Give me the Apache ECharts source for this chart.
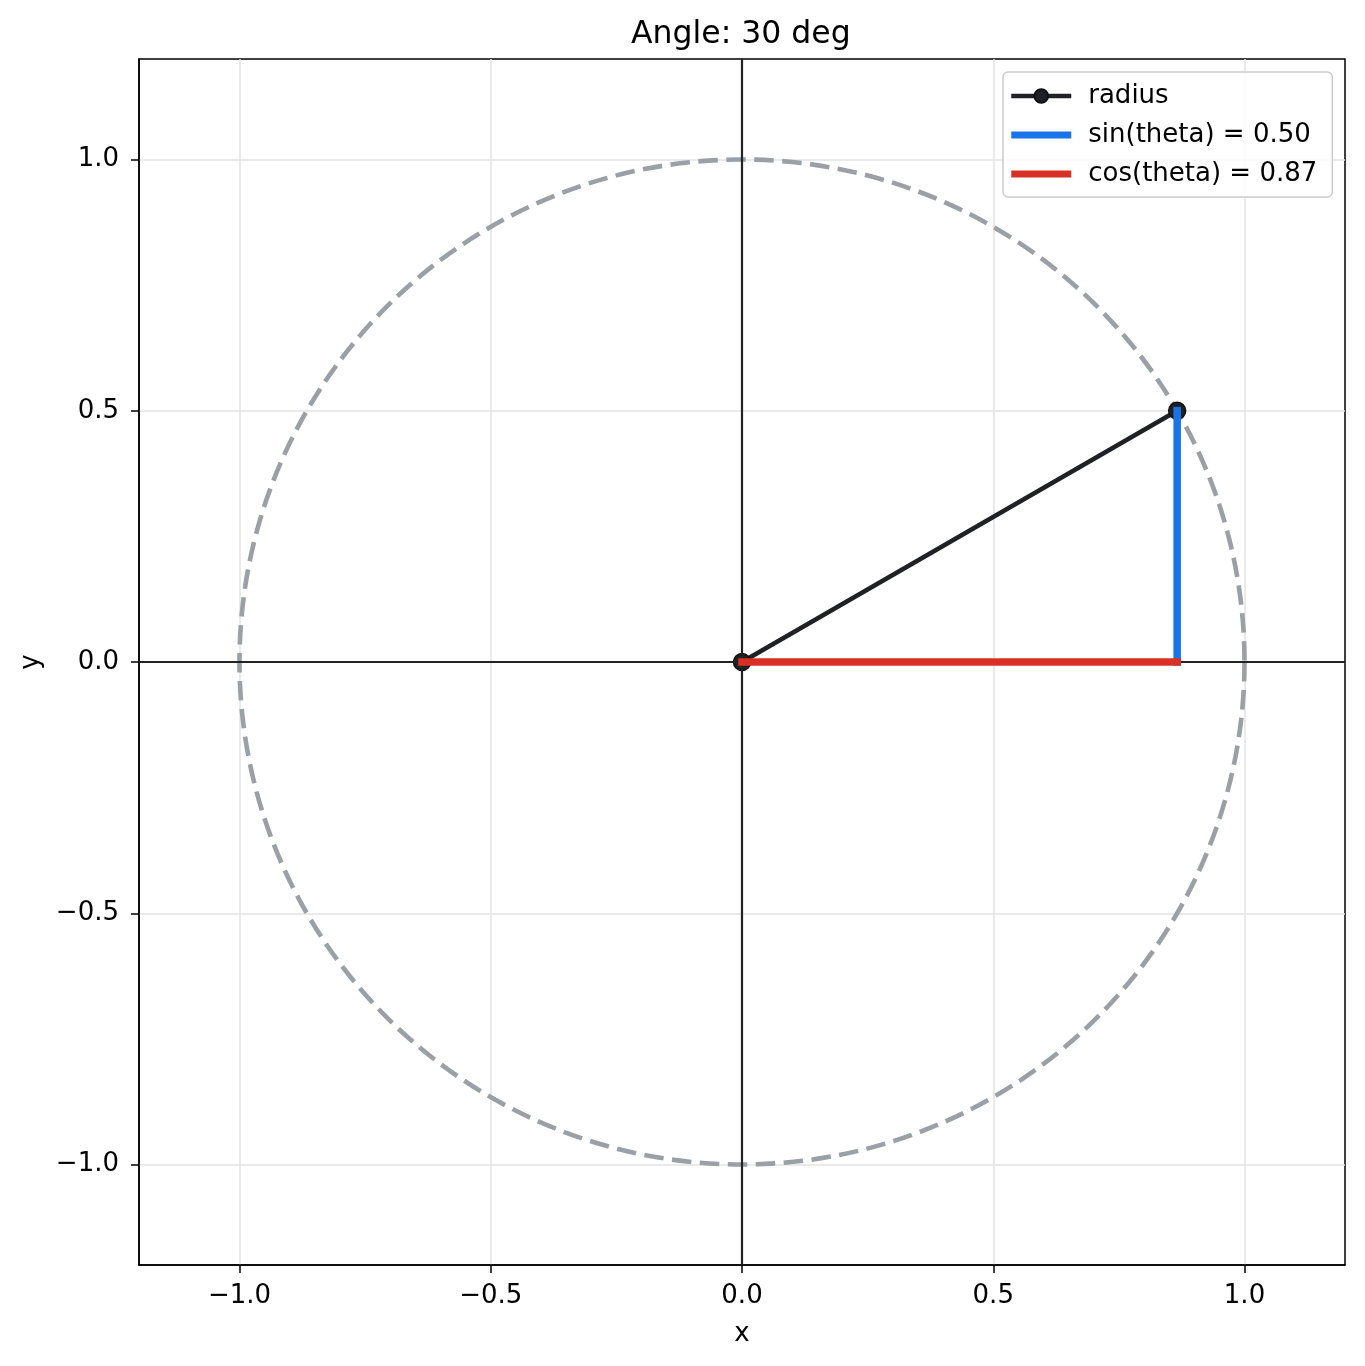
<!DOCTYPE html>
<html lang="en">
  <head>
    <meta charset="UTF-8" />
    <title>Angle: 30 deg</title>
    <script src="https://cdn.jsdelivr.net/npm/echarts@6/dist/echarts.min.js"></script>
    <style>
      body { margin: 0; background: #fff; }
    </style>
  </head>
  <body>
    <div id="main" style="width: 1365px; height: 1366px"></div>
    <script type="text/javascript">
      // values
      const angleDeg = 30;
      const radiusX = [0, 0.866];
      const radiusY = [0, 0.5];
      const sinX = [0.866, 0.866];
      const sinY = [0, 0.5];
      const cosX = [0, 0.866];
      const cosY = [0, 0];
      const circle = [0, 0, 1]; // center x, center y, radius
      const tickValues = [-1.0, -0.5, 0.0, 0.5, 1.0];
      const seriesNames = ["radius", "sin(theta) = 0.50", "cos(theta) = 0.87"];

      const font = "DejaVu Sans";
      const black = "#202124";
      const blue = "#1a73e8";
      const red = "#d93025";
      const pair = (xs, ys) => xs.map((x, i) => [x, ys[i]]);
      const fmt = (v) => (v < 0 ? "\u2212" : "") + Math.abs(v).toFixed(1);

      var myChart = echarts.init(document.getElementById("main"));

      function axis(name, nameGap, margin) {
        return {
          type: "value",
          min: -1.2,
          max: 1.2,
          name: name,
          nameLocation: "middle",
          nameGap: nameGap,
          nameTextStyle: { fontFamily: font, fontSize: 26, color: "#000" },
          axisLine: { show: true, onZero: false, lineStyle: { color: "#000", width: 1.5 } },
          axisTick: {
            show: true,
            length: 8,
            customValues: tickValues,
            lineStyle: { color: "#000", width: 1.5 }
          },
          axisLabel: {
            customValues: tickValues,
            formatter: fmt,
            fontFamily: font,
            fontSize: 26,
            color: "#000",
            margin: margin
          },
          splitLine: { show: true, lineStyle: { color: "#e3e3e3", width: 1.5 } }
        };
      }

      var option = {
        animation: false,
        backgroundColor: "#fff",
        title: {
          text: "Angle: " + angleDeg + " deg",
          left: 631,
          top: 19,
          padding: 0,
          textStyle: { fontFamily: font, fontSize: 31.5, fontWeight: "normal", color: "#000" }
        },
        grid: {
          left: 139,
          right: 20,
          top: 59,
          bottom: 101,
          show: true,
          borderColor: "#000",
          borderWidth: 1.5
        },
        legend: {
          data: [
            { name: seriesNames[0], lineStyle: { width: 4.5 } },
            { name: seriesNames[1], icon: "path://M0,0L60,0L60,7L0,7Z" },
            { name: seriesNames[2], icon: "path://M0,0L60,0L60,7L0,7Z" }
          ],
          orient: "vertical",
          left: 1003,
          top: 72,
          padding: [11, 15, 10, 6],
          itemWidth: 60,
          itemHeight: 17,
          itemGap: 13,
          backgroundColor: "rgba(255,255,255,0.8)",
          borderColor: "#cccccc",
          borderWidth: 1.5,
          borderRadius: 5,
          textStyle: { fontFamily: font, fontSize: 26, color: "#000", padding: [0, 0, 0, 12] }
        },
        xAxis: axis("x", 56, 18),
        yAxis: axis("y", 95, 20),
        series: [
          {
            type: "custom",
            name: "unit circle",
            z: 1,
            silent: true,
            data: [circle],
            encode: { x: 0, y: 1 },
            renderItem: function (params, api) {
              const c = api.coord([api.value(0), api.value(1)]);
              const r = api.size([api.value(2), 0])[0];
              return {
                type: "circle",
                shape: { cx: c[0], cy: c[1], r: r },
                style: { fill: null, stroke: "#9aa0a6", lineWidth: 4.6, lineDash: [19.5, 8.5] }
              };
            }
          },
          {
            type: "line",
            name: "axes",
            z: 2,
            data: [],
            silent: true,
            markLine: {
              silent: true,
              symbol: "none",
              label: { show: false },
              lineStyle: { color: "#222", width: 2.2, type: "solid" },
              data: [{ xAxis: 0 }, { yAxis: 0 }]
            }
          },
          {
            type: "line",
            name: seriesNames[0],
            z: 3,
            data: pair(radiusX, radiusY),
            symbol: "circle",
            symbolSize: 17,
            itemStyle: { color: black, borderColor: "#111", borderWidth: 1.5 },
            lineStyle: { color: black, width: 4.5 }
          },
          {
            type: "line",
            name: seriesNames[1],
            z: 4,
            data: pair(sinX, sinY),
            symbol: "none",
            itemStyle: { color: blue },
            lineStyle: { color: blue, width: 7.5, cap: "square" }
          },
          {
            type: "line",
            name: seriesNames[2],
            z: 5,
            data: pair(cosX, cosY),
            symbol: "none",
            itemStyle: { color: red },
            lineStyle: { color: red, width: 7.5, cap: "square" }
          }
        ]
      };

      myChart.setOption(option);
    </script>
  </body>
</html>
